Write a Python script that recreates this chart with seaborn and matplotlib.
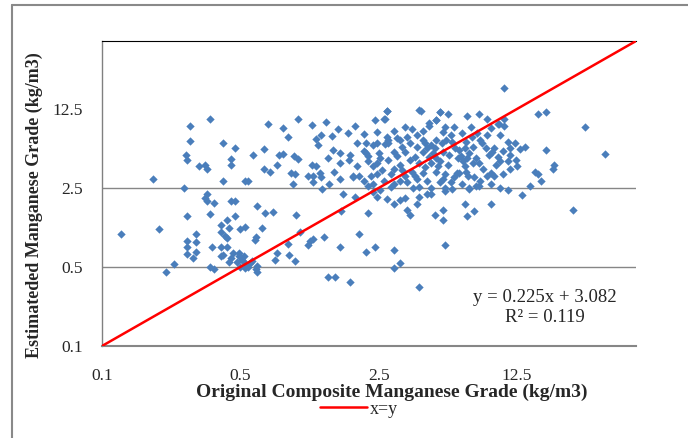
import matplotlib
matplotlib.use('Agg')
import matplotlib.pyplot as plt
import seaborn as sns
from matplotlib.lines import Line2D
from matplotlib.ticker import NullLocator, FixedLocator, FixedFormatter

# ---- data ----
# left group (low original grades)
x_left = [0.18, 0.26, 0.28, 0.35, 0.28, 0.265, 0.27, 0.31, 0.33, 0.34, 0.41, 0.47, 0.45, 0.45, 0.41,
          0.55, 0.53, 0.58, 0.66, 0.69, 0.66, 0.71, 0.78, 0.77, 0.34,
          0.33, 0.34, 0.37, 0.45, 0.47, 0.35, 0.27, 0.195, 0.125, 0.40, 0.43, 0.44, 0.47, 0.40, 0.30,
          0.42, 0.43, 0.27, 0.30, 0.27, 0.36, 0.40, 0.43, 0.30, 0.27, 0.29, 0.40, 0.41, 0.45, 0.49,
          0.49, 0.51, 0.48, 0.23, 0.21, 0.35, 0.37, 0.53, 0.56, 0.53, 0.55, 0.61, 0.61, 0.60, 0.60,
          0.59, 0.61, 0.67, 0.73, 0.64, 0.53, 0.50, 0.77, 0.75, 0.50, 0.46, 0.52, 0.57, 0.44]
y_left = [3.0, 2.5, 8.9, 10.3, 6.5, 4.9, 4.4, 3.9, 4.0, 3.7, 6.2, 5.6, 4.5, 4.0, 2.9,
          2.9, 2.9, 4.9, 5.5, 9.3, 3.7, 3.5, 4.9, 4.0, 2.2,
          2.05, 1.9, 1.85, 1.9, 1.92, 1.48, 1.4, 1.08, 0.98, 1.18, 1.3, 1.1, 1.4, 1.03, 0.98,
          0.95, 0.9, 0.85, 0.83, 0.75, 0.75, 0.75, 0.75, 0.68, 0.65, 0.6, 0.62, 0.64, 0.6, 0.66,
          0.63, 0.58, 0.55, 0.53, 0.45, 0.5, 0.48, 0.54, 0.54, 0.49, 0.5, 0.51, 0.45, 0.48, 0.93,
          0.86, 1.75, 1.5, 1.52, 1.1, 1.12, 1.08, 0.67, 0.58, 0.5, 0.66, 0.62, 0.57, 0.55]

# central upper group
x_mid = [0.98, 0.82, 0.87, 0.82, 0.93, 0.98, 0.90, 0.95, 0.92, 1.15, 1.2, 1.28, 1.23, 1.45, 1.38,
         1.47, 1.6, 1.75, 1.8, 1.77, 1.26, 1.28, 1.17, 1.4, 1.6, 2.0, 1.85, 2.15, 2.2, 2.2,
         2.35, 2.45, 2.45, 2.4, 2.65, 2.75, 2.75, 2.8, 2.5, 2.55, 2.45, 2.35, 2.3, 2.45, 2.1,
         2.35, 2.65, 3.0, 3.2, 3.4, 3.0, 3.2, 2.8, 3.1, 3.0, 3.3, 3.5, 3.1, 4.0, 5.1,
         5.6, 4.9, 4.5, 5.4, 6.0, 5.3, 3.9, 4.2, 4.9, 5.5, 5.9, 3.9, 4.4, 4.7, 5.3,
         5.7, 3.8, 4.0, 4.6, 5.1, 5.6, 3.7, 4.2, 4.9, 5.4, 6.2, 3.9, 4.4, 5.1, 5.8,
         4.0, 4.6, 5.4, 3.75, 1.95, 2.1, 1.48, 1.6, 1.85, 1.95, 2.7, 1.17, 1.2, 1.1,
         4.1, 5.1, 2.75, 2.7, 4.5, 4.9, 3.2, 2.8, 2.15, 2.2, 2.35, 2.55,
         4.3, 4.6, 4.8, 4.2, 4.5, 4.9, 5.2, 3.6, 3.4, 3.6, 4.3, 5.0, 3.3, 2.9, 2.6, 3.8,
         3.5, 2.9, 5.3, 6.0, 6.3, 6.1, 5.8, 3.7, 4.2, 3.4, 3.0, 2.1, 1.9, 1.35, 1.15, 1.55]
y_mid = [10.2, 8.5, 7.0, 5.0, 4.8, 4.5, 3.4, 3.3, 2.7, 4.0, 6.8, 7.4, 6.0, 7.2, 4.6,
         5.4, 5.1, 7.7, 4.9, 4.4, 3.4, 3.1, 2.8, 2.7, 3.0, 3.2, 3.1, 5.1, 4.8, 4.3,
         6.0, 6.2, 7.9, 10.0, 10.3, 12.0, 7.0, 6.3, 5.1, 4.6, 4.2, 3.9, 3.2, 3.3, 2.9,
         2.7, 2.9, 2.7, 2.9, 3.2, 3.7, 4.0, 4.4, 4.8, 5.2, 5.8, 7.1, 6.9, 12.3, 11.8,
         11.2, 10.0, 8.9, 8.7, 8.7, 7.8, 7.4, 6.7, 6.7, 6.7, 6.4, 5.8, 5.6, 5.1, 5.2,
         4.9, 4.7, 4.2, 4.2, 4.3, 4.0, 3.5, 3.4, 3.5, 3.3, 3.4, 3.0, 2.9, 2.85, 2.85,
         2.55, 2.5, 2.5, 2.5, 6.2, 5.3, 3.5, 4.2, 3.2, 3.9, 6.1, 3.2, 3.9, 3.2,
         12.1, 11.7, 11.9, 10.2, 9.4, 9.9, 6.7, 6.7, 6.3, 2.6, 2.3, 2.4,
         6.2, 6.0, 5.6, 5.2, 4.7, 4.6, 6.2, 6.3, 5.2, 4.4, 3.8, 3.9, 3.6, 3.3, 3.6, 3.2,
         2.8, 2.55, 3.0, 3.1, 4.6, 5.6, 7.4, 8.3, 8.0, 8.7, 8.0, 7.5, 8.8, 9.6, 9.1, 8.3]

# right group (high original grades)
x_right = [10.7, 17.5, 16.0, 27.6, 35.0, 19.3, 19.0, 16.0, 16.5, 14.5, 17.6, 13.8, 13.0, 12.3, 11.3,
           11.5, 11.6, 11.3, 12.4, 12.5, 11.6, 10.3, 10.6, 10.3, 10.8, 10.7, 10.1, 8.0, 7.0, 7.3,
           7.9, 8.8, 9.2, 10.0, 9.6, 9.4, 9.0, 8.7, 8.3, 8.1, 7.5, 6.8, 6.4, 7.2, 7.8,
           8.0, 7.5, 6.8, 7.1, 7.6, 8.1, 8.8, 9.2, 9.6, 10.3, 9.2, 8.0, 7.2, 6.6, 6.7,
           6.4, 8.8, 10.0, 10.6, 7.0, 7.6, 6.8, 9.2, 7.2, 7.8, 11.3, 13.3, 24.0, 15.5,
           6.9, 7.4, 6.6, 6.5, 7.0, 8.4, 9.8, 6.9]
y_right = [19.0, 11.8, 11.3, 8.7, 5.0, 4.0, 3.7, 3.3, 2.9, 2.6, 5.4, 5.8, 5.5, 6.2, 6.4,
           5.7, 4.9, 4.3, 4.4, 3.9, 3.7, 4.3, 3.3, 7.4, 8.8, 10.3, 9.3, 11.3, 10.8, 8.7,
           7.7, 7.4, 8.5, 9.3, 5.7, 5.2, 4.9, 5.6, 6.2, 6.7, 5.8, 5.7, 5.4, 5.1, 4.6,
           4.2, 4.2, 3.9, 3.2, 3.1, 2.9, 3.2, 3.4, 3.2, 2.5, 2.7, 2.6, 2.5, 2.7, 4.3,
           3.4, 10.3, 4.7, 5.3, 1.4, 1.55, 1.8, 1.8, 2.45, 2.6, 2.4, 2.15, 1.6, 3.5,
           6.4, 7.0, 7.6, 4.8, 4.6, 3.7, 4.0, 3.5]

# central lower group
x_low = [0.96, 1.0, 1.17, 1.13, 1.1, 1.33, 0.87, 0.88, 0.95, 1.62, 1.6, 2.0, 2.2, 2.4, 2.15,
         3.0, 3.2, 3.0, 1.38, 1.5, 1.8, 4.0, 3.5, 3.6, 3.9, 4.8, 5.3, 5.3, 5.4, 3.0,
         2.45, 2.75, 3.2, 3.4, 4.0, 4.4, 4.6, 1.3, 1.65, 1.9, 5.4, 5.9]
y_low = [1.45, 1.03, 0.88, 0.85, 0.78, 0.93, 0.8, 0.64, 0.56, 1.55, 0.75, 0.97, 1.5, 0.75, 0.68,
         0.71, 0.54, 0.49, 0.41, 0.41, 0.37, 0.33, 1.6, 1.45, 1.8, 1.45, 1.6, 1.3, 0.78, 1.8,
         2.1, 2.0, 1.95, 2.05, 2.1, 2.2, 2.2, 2.45, 2.2, 2.1, 2.35, 2.45]

x_original = x_left + x_mid + x_right + x_low
y_estimated = y_left + y_mid + y_right + y_low

axis_limits = [0.1, 50]
identity_line = [0.1, 50]
tick_values = [0.1, 0.5, 2.5, 12.5]
tick_labels = ['0.1', '0.5', '2.5', '12.5']
grid_values = [0.5, 2.5]
equation_lines = ['y = 0.225x + 3.082', 'R² = 0.119']

# ---- style ----
sns.set_style('white')
plt.rcParams['font.family'] = ['Liberation Serif', 'DejaVu Serif']

W, H = 688, 438
fig = plt.figure(figsize=(W / 100, H / 100), dpi=100)
L, R, T, B = 102, 636, 41, 346
ax = fig.add_axes([L / W, (H - B) / H, (R - L) / W, (B - T) / H])

ax.set_xscale('log', base=5)
ax.set_yscale('log', base=5)
ax.set_xlim(axis_limits)
ax.set_ylim(axis_limits)

for g in grid_values:
    ax.axhline(g, color='#868686', lw=1.0, zorder=0)

sns.scatterplot(x=x_original, y=y_estimated, marker='D', s=18, color='#4A7EBB',
                linewidth=0, ax=ax, legend=False, zorder=2)
line, = ax.plot(identity_line, identity_line, color='#FF0000', lw=1.8, label='x=y', zorder=3)

for axis in (ax.xaxis, ax.yaxis):
    axis.set_major_locator(FixedLocator(tick_values))
    axis.set_major_formatter(FixedFormatter(tick_labels))
    axis.set_minor_locator(NullLocator())
ax.tick_params(axis='x', length=0, labelsize=12.5, pad=15.5)
ax.tick_params(axis='y', length=0, labelsize=12.5, pad=14)

ax.spines['right'].set_visible(False)
ax.spines['top'].set_color('black')
ax.spines['top'].set_linewidth(0.8)
ax.spines['left'].set_color('#808080')
ax.spines['left'].set_linewidth(1.0)
ax.spines['bottom'].set_color('#868686')
ax.spines['bottom'].set_linewidth(1.5)

ax.set_xlabel('Original Composite Manganese Grade (kg/m3)', fontsize=14, fontweight='bold')
ax.xaxis.label.set_va('center')
ax.xaxis.set_label_coords((392 - L) / (R - L), (B - 392) / (B - T))
ax.set_ylabel('Estimateded Manganese Grade (kg/m3)', fontsize=13, fontweight='bold')
ax.yaxis.label.set_va('center')
ax.yaxis.set_label_coords((34 - L) / (R - L), (B - 205) / (B - T))

ax.text((545 - L) / (R - L), (B - 297) / (B - T), equation_lines[0], transform=ax.transAxes,
        ha='center', va='center', fontsize=13.5)
ax.text((545 - L) / (R - L), (B - 318) / (B - T), equation_lines[1], transform=ax.transAxes,
        ha='center', va='center', fontsize=13.5)

fig.legend(handles=[line], loc='center', bbox_to_anchor=(359 / W, 1 - 409 / H),
           frameon=False, fontsize=13, handlelength=2.6, handletextpad=0.2)

# outer chart frame (left and top edges visible)
fig.add_artist(Line2D([12 / W, 12 / W], [0, 1 - 5 / H], color='#898989', lw=1.5))
fig.add_artist(Line2D([12 / W, 1], [1 - 5 / H, 1 - 5 / H], color='#898989', lw=1.5))

fig.savefig('out.png', dpi=100)
